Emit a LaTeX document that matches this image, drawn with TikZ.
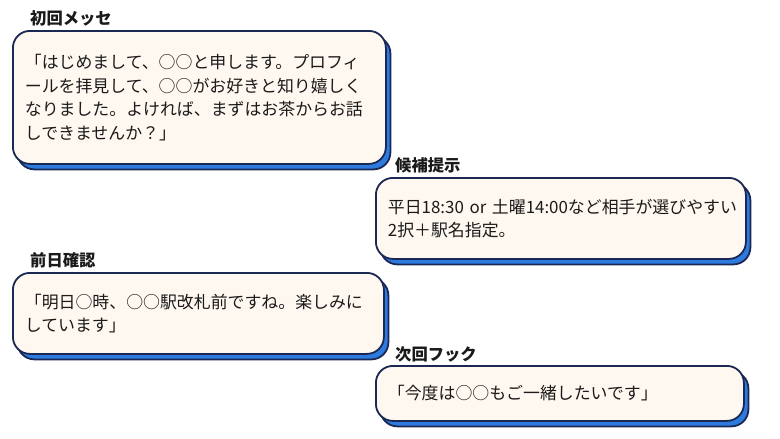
\documentclass[tikz,border=0pt]{standalone}
\usepackage{fontspec}
\usepackage{tikz}
\usetikzlibrary{shadows}
\setmainfont{Noto Sans CJK JP}
\definecolor{N}{RGB}{27, 40, 84}
\definecolor{B}{RGB}{46, 123, 224}
\definecolor{C}{RGB}{255, 248, 241}
\definecolor{T}{RGB}{26, 26, 26}
\tikzset{
  msgbox/.style={draw=N, fill=C, line width=1.8pt, rounded corners=17pt,
    anchor=north west, align=left, inner xsep=12pt, inner ysep=0pt, text=T,
    font=\fontsize{16.9pt}{23.5pt}\selectfont,
    copy shadow={shadow xshift=4.5pt, shadow yshift=-5.5pt, fill=B, draw=N, line width=1.8pt}},
  ttl/.style={anchor=west, inner sep=0pt, text=T,
    font=\fontsize{16.3pt}{18pt}\selectfont\bfseries}
}

\begin{document}
\begin{tikzpicture}[x=1pt,y=-1pt]
  \useasboundingbox (0,0) rectangle (780,439);
  % Titulos
  \node[ttl] (t1) at (30,18) {初回メッセ};
  \node[ttl] (t2) at (395,165) {候補提示};
  \node[ttl] (t3) at (30,260) {前日確認};
  \node[ttl] (t4) at (395,354) {次回フック};
  % Mensajes
  \node[msgbox, text width=349pt, minimum height=133pt] (m1) at (12,30)
    {「はじめまして、○○と申します。プロフィ\\ールを拝見して、○○がお好きと知り嬉しく\\なりました。よければ、まずはお茶からお話\\しできませんか？」};
  \node[msgbox, text width=346pt, minimum height=81pt] (m2) at (375,177)
    {平日18:30~or~土曜14:00など相手が選びやすい\\2択＋駅名指定。};
  \node[msgbox, text width=347pt, minimum height=81pt] (m3) at (12,272)
    {「明日○時、○○駅改札前ですね。楽しみに\\しています」};
  \node[msgbox, text width=344pt, minimum height=55pt] (m4) at (375,365)
    {「今度は○○もご一緒したいです」};
\end{tikzpicture}
\end{document}
